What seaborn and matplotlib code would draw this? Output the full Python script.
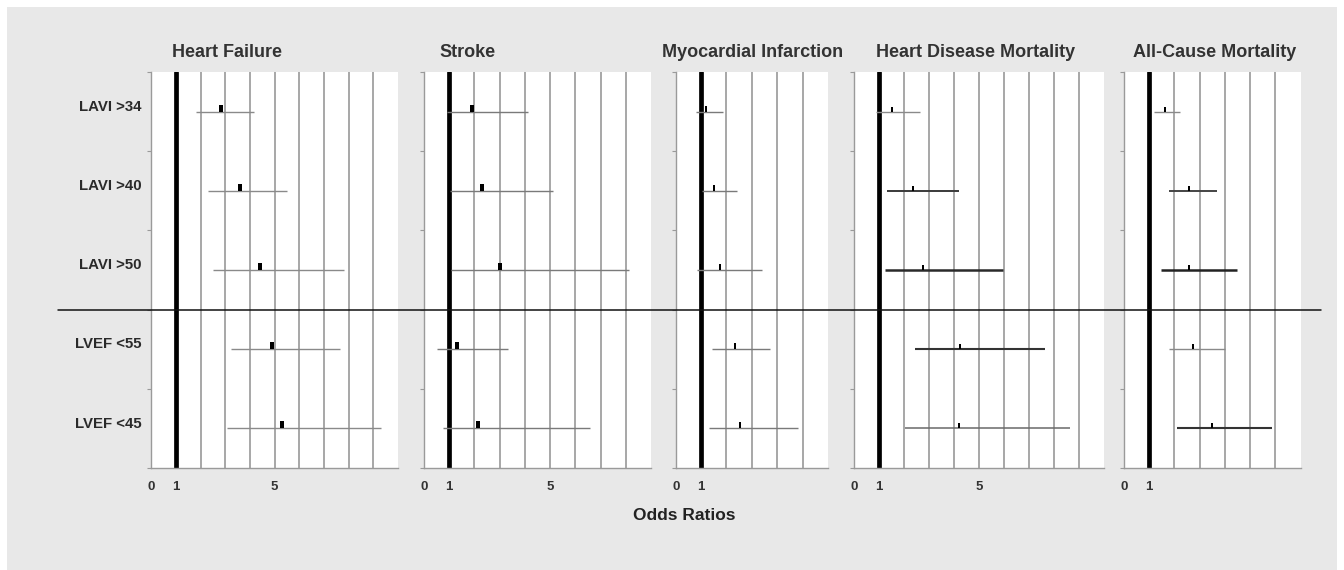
import numpy as np
import pandas as pd
import seaborn as sns
import matplotlib.pyplot as plt
from matplotlib.path import Path
from matplotlib.patches import Rectangle
from matplotlib.lines import Line2D

# ---- data -------------------------------------------------------------
measures = ["LAVI >34", "LAVI >40", "LAVI >50", "LVEF <55", "LVEF <45"]
outcomes = ["Heart Failure", "Stroke", "Myocardial Infarction",
            "Heart Disease Mortality", "All-Cause Mortality"]

hf_est = [2.82, 3.61, 4.40, 4.90, 5.30]
hf_lo = [1.81, 2.31, 2.49, 3.21, 3.06]
hf_hi = [4.17, 5.51, 7.83, 7.63, 9.32]

stroke_est = [1.90, 2.30, 3.02, 1.32, 2.15]
stroke_lo = [0.90, 1.03, 1.06, 0.50, 0.77]
stroke_hi = [4.11, 5.11, 8.12, 3.33, 6.60]

mi_est = [1.20, 1.52, 1.73, 2.32, 2.52]
mi_lo = [0.79, 1.02, 0.83, 1.42, 1.32]
mi_hi = [1.87, 2.40, 3.41, 3.71, 4.80]

hdm_est = [1.51, 2.34, 2.74, 4.22, 4.20]
hdm_lo = [0.86, 1.32, 1.24, 2.42, 2.03]
hdm_hi = [2.64, 4.20, 5.94, 7.63, 8.63]

acm_est = [1.62, 2.59, 2.59, 2.72, 3.50]
acm_lo = [1.20, 1.79, 1.47, 1.79, 2.11]
acm_hi = [2.23, 3.70, 4.48, 3.99, 5.87]

x_max = [10, 9, 6, 10, 7]
tick_labels = [["0", "1", "5"], ["0", "1", "5"], ["0", "1"],
               ["0", "1", "5"], ["0", "1"]]
tick_values = [[0, 1, 5], [0, 1, 5], [0, 1], [0, 1, 5], [0, 1]]

est_all = [hf_est, stroke_est, mi_est, hdm_est, acm_est]
lo_all = [hf_lo, stroke_lo, mi_lo, hdm_lo, acm_lo]
hi_all = [hf_hi, stroke_hi, mi_hi, hdm_hi, acm_hi]

frames = []
for name, e, l, h in zip(outcomes, est_all, lo_all, hi_all):
    frames.append(pd.DataFrame({"outcome": name, "measure": measures,
                                "est": e, "lo": l, "hi": h}))
df = pd.concat(frames, ignore_index=True)
df["row"] = df["measure"].map({m: i + 0.5 for i, m in enumerate(measures)})

# ---- style ------------------------------------------------------------
sns.set_theme(style="white")
plt.rcParams["font.family"] = ["Liberation Sans", "DejaVu Sans"]

W, H = 1344, 570
fig = plt.figure(figsize=(W / 100, H / 100), dpi=100, facecolor="white")
fig.patches.append(Rectangle((7 / W, 0), (1337 - 7) / W, (570 - 7) / H,
                             transform=fig.transFigure, facecolor="#e8e8e8",
                             edgecolor="none", zorder=-10))

# panel placement in pixels (left, right); shared top/bottom
panel_px = [(151.4, 398), (424, 651), (675.7, 828), (854.3, 1104), (1124, 1300.7)]
top_px, bottom_px = 72, 468
title_offsets_px = [21, 15, -14, 22, 9]

ci_colors = [["#8a8a8a"] * 5, ["#7a7a7a"] * 5, ["#7a7a7a"] * 5,
             ["#8a8a8a", "#3a3a3a", "#2a2a2a", "#333333", "#6a6a6a"],
             ["#8a8a8a", "#444444", "#222222", "#8a8a8a", "#333333"]]
ci_widths = [[1.0] * 5, [1.0] * 5, [1.0] * 5,
             [1.0, 1.4, 1.8, 1.5, 1.1],
             [1.0, 1.4, 1.8, 1.0, 1.5]]
marker_sizes = [115, 105, 85, 60, 55]
marker_half_widths = [0.32, 0.32, 0.2, 0.24, 0.24]

axes = []
for i, name in enumerate(outcomes):
    left, right = panel_px[i]
    ax = fig.add_axes([left / W, 1 - bottom_px / H, (right - left) / W,
                       (bottom_px - top_px) / H])
    axes.append(ax)
    ax.set_facecolor("white")
    sub = df[df["outcome"] == name]

    xm = x_max[i]
    ax.set_xlim(0, xm)
    ax.set_ylim(5, 0)

    # vertical reference grid
    ax.set_xticks(np.arange(0, xm))
    ax.set_xticklabels([""] * xm)
    ax.grid(axis="x", color="#8f8f8f", linewidth=1.1, zorder=0)
    ax.grid(axis="y", visible=False)
    ax.axvline(1, color="black", linewidth=3.4, zorder=1)

    # confidence intervals
    ax.hlines(sub["row"], sub["lo"], sub["hi"], colors=ci_colors[i],
              linewidths=ci_widths[i], zorder=2)

    # point estimates: small bar resting on the interval line
    hw = marker_half_widths[i]
    est_marker = Path([(-hw, 0), (hw, 0), (hw, 1), (-hw, 1), (-hw, 0)],
                      [Path.MOVETO, Path.LINETO, Path.LINETO, Path.LINETO,
                       Path.CLOSEPOLY])
    sns.scatterplot(data=sub, x="est", y="row", ax=ax, marker=est_marker,
                    s=marker_sizes[i], color="black", linewidth=0,
                    zorder=3, legend=False)

    ax.set_xlabel("")
    ax.set_ylabel("")
    ax.set_yticks(np.arange(0, 6))
    ax.set_yticklabels([])
    ax.tick_params(axis="y", which="major", length=3, width=0.8,
                   color="#9a9a9a", left=True)
    ax.tick_params(axis="x", length=0)

    # tick labels below each panel
    for v, lab in zip(tick_values[i], tick_labels[i]):
        ax.annotate(lab, xy=(v, 0), xycoords=("data", "axes fraction"),
                    xytext=(0, -9), textcoords="offset points",
                    ha="center", va="top", fontsize=9.5, fontweight="bold",
                    color="#333333")

    for side in ["top", "right"]:
        ax.spines[side].set_visible(False)
    for side in ["left", "bottom"]:
        ax.spines[side].set_color("#9a9a9a")
        ax.spines[side].set_linewidth(1.0)

    ax.annotate(name, xy=(0, 1), xycoords="axes fraction",
                xytext=(title_offsets_px[i] * 0.72, 11), textcoords="offset points",
                ha="left", va="baseline", fontsize=13, fontweight="bold",
                color="#333333")

# row labels on the first panel
ax0 = axes[0]
ax0.set_yticks([r - 0.08 for r in df["row"].unique()], minor=True)
ax0.set_yticklabels(measures, minor=True, fontsize=10.8, fontweight="bold",
                    color="#2a2a2a")
ax0.tick_params(axis="y", which="minor", length=0, pad=7)

# separator between LAVI and LVEF rows
y_sep = fig.transFigure.inverted().transform(ax0.transData.transform((0, 3)))[1]
fig.add_artist(Line2D([58 / W, 1321 / W], [y_sep, y_sep], color="#111111",
                      linewidth=1.1, transform=fig.transFigure, zorder=5))

fig.text(684 / W, 1 - 516 / H, "Odds Ratios", ha="center", va="center",
         fontsize=12.5, fontweight="bold", color="#222222")

fig.savefig("out.png", dpi=100, facecolor=fig.get_facecolor())
